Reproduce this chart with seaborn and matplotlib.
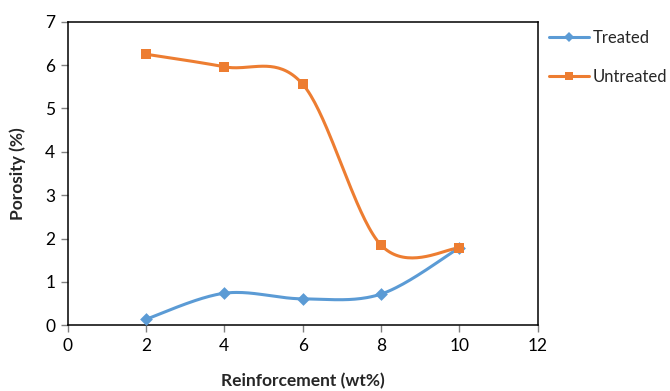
import numpy as np
import pandas as pd
import matplotlib
matplotlib.use("Agg")
import matplotlib.pyplot as plt
from matplotlib.lines import Line2D
import seaborn as sns

# Data
reinforcement = [2, 4, 6, 8, 10]
treated = [0.14, 0.74, 0.61, 0.72, 1.79]
untreated = [6.25, 5.96, 5.56, 1.85, 1.78]
x_ticks = [0, 2, 4, 6, 8, 10, 12]
y_ticks = [0, 1, 2, 3, 4, 5, 6, 7]

sns.set_theme(style="white")
plt.rcParams['font.family'] = ['Lato', 'DejaVu Sans']


def smooth(xs, ys, n=40):
    """Excel-like smoothed line (Catmull-Rom as cubic Bezier)."""
    xs = np.asarray(xs, float)
    ys = np.asarray(ys, float)
    P = np.column_stack([xs, ys])
    out = []
    for i in range(len(P) - 1):
        p0 = P[i - 1] if i > 0 else P[i]
        p1 = P[i]
        p2 = P[i + 1]
        p3 = P[i + 2] if i + 2 < len(P) else P[i + 1]
        c1 = p1 + (p2 - p0) / 6.0
        c2 = p2 - (p3 - p1) / 6.0
        t = np.linspace(0, 1, n)[:, None]
        seg = ((1 - t) ** 3) * p1 + 3 * ((1 - t) ** 2) * t * c1 + 3 * (1 - t) * t ** 2 * c2 + t ** 3 * p2
        if i > 0:
            seg = seg[1:]
        out.append(seg)
    arr = np.vstack(out)
    return arr[:, 0], arr[:, 1]


blue = "#5B9BD5"
orange = "#ED7D31"

fig = plt.figure(figsize=(6.7, 3.91), dpi=100)
ax = fig.add_axes([0.101, 0.168, 0.7015, 0.7765])

series = [("Treated", treated, blue, "D", 6.5), ("Untreated", untreated, orange, "s", 7.5)]
handles = []
for name, vals, col, mk, ms in series:
    sx, sy = smooth(reinforcement, vals)
    df = pd.DataFrame({"x": sx, "y": sy})
    sns.lineplot(data=df, x="x", y="y", sort=False, color=col, linewidth=2.2, ax=ax, legend=False)
    pts = pd.DataFrame({"x": reinforcement, "y": vals})
    sns.scatterplot(data=pts, x="x", y="y", marker=mk, s=ms ** 2, color=col, edgecolor=col,
                    linewidth=0, ax=ax, legend=False, zorder=3)
    handles.append(Line2D([0], [0], color=col, lw=2.2, marker=mk, markersize=ms * 0.85,
                          markeredgewidth=0, label=name))

ax.set_xlim(0, 12)
ax.set_ylim(0, 7)
ax.set_xticks(x_ticks)
ax.set_yticks(y_ticks)
ax.tick_params(axis='both', direction='out', length=5, width=1, color='#808080',
               labelsize=12.5, labelcolor='black', bottom=True, left=True, pad=4)
for sp in ax.spines.values():
    sp.set_visible(True)
    sp.set_color('black')
    sp.set_linewidth(1.1)

ax.set_xlabel("Reinforcement (wt%)", fontsize=12.5, fontweight='bold', labelpad=14)
ax.set_ylabel("Porosity (%)", fontsize=12.5, fontweight='bold', labelpad=14)

fig.legend(handles=handles, loc='upper left', bbox_to_anchor=(0.809, 0.94), frameon=False,
           fontsize=12, handlelength=2.4, handletextpad=0.25, labelspacing=1.35, borderaxespad=0)

fig.savefig("out.png", dpi=100)
